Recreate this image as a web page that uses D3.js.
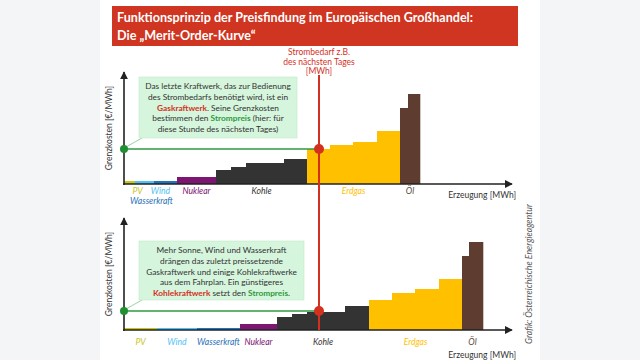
<!DOCTYPE html>
<html>
<head>
<meta charset="utf-8">
<script src="https://cdn.jsdelivr.net/npm/d3@7"></script>
<style>
  body { margin: 0; background: #f4f5f7; }
  svg { display: block; font-family: Lato, "Open Sans", sans-serif; }
</style>
</head>
<body>
<svg id="chart" width="640" height="360"></svg>
<script>
// ---- data (capacity in MWh-units, marginal cost in €/MWh-units) ----
const categories = ["PV", "Wind", "Wasserkraft", "Nuklear", "Kohle", "Erdgas", "Öl"];
const catColors = ["#c9c51a", "#4fc0f5", "#1f73bf", "#7d1572", "#333333", "#ffc000", "#5e3c2f"];
const labelColors = ["#c9c51a", "#4fc0f5", "#1f6fb5", "#7d1572", "#333333", "#ffc000", "#5a4a42"];

// top panel: plants in merit order
const topCat = ["PV", "Wind", "Wasserkraft", "Nuklear", "Kohle", "Kohle", "Kohle", "Kohle",
                "Erdgas", "Erdgas", "Erdgas", "Erdgas", "Öl", "Öl"];
const topCap = [11, 19, 23, 39, 15, 15, 38, 23, 23, 23, 24, 23, 8, 12];
const topCost = [3, 3, 3, 7, 14, 17, 21, 25, 35, 39, 42, 53, 76, 90];
const topPrice = 35;

// bottom panel: more sun, wind and hydro
const botCat = ["PV", "Wind", "Wasserkraft", "Nuklear", "Kohle", "Kohle", "Kohle", "Kohle",
                "Erdgas", "Erdgas", "Erdgas", "Erdgas", "Öl", "Öl"];
const botCap = [33, 40, 43, 37, 15, 15, 38, 24, 23, 23, 24, 23, 7, 14];
const botCost = [2, 2, 2, 6, 13, 16, 18, 24, 30, 37, 41, 51, 74, 88];
const botPrice = 19;

const demand = 195;

const topNote = [
  [["Das letzte Kraftwerk, das zur Bedienung", "n"]],
  [["des Strombedarfs benötigt wird, ist ein", "n"]],
  [["Gaskraftwerk", "r"], [". Seine Grenzkosten", "n"]],
  [["bestimmen den ", "n"], ["Strompreis", "g"], [" (hier: für", "n"]],
  [["diese Stunde des nächsten Tages)", "n"]]
];
const botNote = [
  [["Mehr Sonne, Wind und Wasserkraft", "n"]],
  [["drängen das zuletzt preissetzende", "n"]],
  [["Gaskraftwerk und einige Kohlekraftwerke", "n"]],
  [["aus dem Fahrplan. Ein günstigeres", "n"]],
  [["Kohlekraftwerk", "r"], [" setzt den ", "n"], ["Strompreis", "g"], [".", "n"]]
];

// ---- drawing ----
const svg = d3.select("#chart");
const RED = "#d3301f", GREEN = "#2f9a40";
const noteColor = {n: "#333333", r: "#d3301f", g: "#2f9a40"};

svg.append("rect").attr("x", 100).attr("y", 0).attr("width", 440).attr("height", 360).attr("fill", "#ffffff");

// title
svg.append("rect").attr("x", 112).attr("y", 6).attr("width", 406).attr("height", 40).attr("fill", "#cf3520");
svg.append("text").attr("x", 117).attr("y", 22).attr("fill", "#fff").attr("font-weight", "bold")
  .attr("font-size", 12.6).text("Funktionsprinzip der Preisfindung im Europäischen Großhandel:");
svg.append("text").attr("x", 117).attr("y", 40).attr("fill", "#fff").attr("font-weight", "bold")
  .attr("font-size", 12.6).text("Die „Merit-Order-Kurve“");

const x = d3.scaleLinear().domain([0, 388]).range([124, 512]);

const defs = svg.append("defs");
defs.append("marker").attr("id", "arrow").attr("viewBox", "0 0 10 10").attr("refX", 9).attr("refY", 5)
  .attr("markerWidth", 5).attr("markerHeight", 5).attr("orient", "auto")
  .append("path").attr("d", "M0,0L10,5L0,10Z").attr("fill", "#222");

function drawPanel(cfg) {
  const y = d3.scaleLinear().domain([0, 112]).range([cfg.base, cfg.base - 112]);
  const g = svg.append("g");

  let acc = 0;
  const plants = cfg.cap.map((c, i) => {
    const p = {cat: cfg.cat[i], x0: acc, x1: acc + c, cost: cfg.cost[i]};
    acc += c;
    return p;
  });

  g.selectAll("rect.plant").data(plants).join("rect").attr("class", "plant")
    .attr("x", d => x(d.x0)).attr("width", d => x(d.x1) - x(d.x0) + 0.3)
    .attr("y", d => y(d.cost)).attr("height", d => y(0) - y(d.cost))
    .attr("fill", d => catColors[categories.indexOf(d.cat)]);

  // axes
  g.append("line").attr("x1", x(0)).attr("x2", x(0)).attr("y1", y(0) + 1).attr("y2", y(112))
    .attr("stroke", "#222").attr("stroke-width", 1.6).attr("marker-end", "url(#arrow)");
  g.append("line").attr("x1", x(0) - 1).attr("x2", x(388)).attr("y1", y(0)).attr("y2", y(0))
    .attr("stroke", "#222").attr("stroke-width", 1.6).attr("marker-end", "url(#arrow)");

  g.append("text").attr("transform", `translate(112,${y(56)}) rotate(-90)`).attr("text-anchor", "middle")
    .attr("font-size", 8.5).attr("fill", "#333").text("Grenzkosten [€/MWh]");
  g.append("text").attr("x", 516).attr("y", cfg.ezY).attr("text-anchor", "end")
    .attr("font-size", 8.5).attr("fill", "#333").text("Erzeugung [MWh]");

  // category labels
  const groups = d3.rollups(plants, v => [d3.min(v, d => d.x0), d3.max(v, d => d.x1)], d => d.cat);
  g.selectAll("text.cat").data(groups).join("text").attr("class", "cat")
    .attr("x", d => x((d[1][0] + d[1][1]) / 2) + (cfg.shift[d[0]] || [0, 0])[0])
    .attr("y", d => cfg.labelY + (cfg.shift[d[0]] || [0, 0])[1])
    .attr("text-anchor", "middle").attr("font-style", "italic").attr("font-size", 8.6)
    .attr("fill", d => labelColors[categories.indexOf(d[0])]).text(d => d[0]);

  // price line
  g.append("line").attr("x1", x(0)).attr("x2", x(demand)).attr("y1", y(cfg.price)).attr("y2", y(cfg.price))
    .attr("stroke", GREEN).attr("stroke-width", 1.5);

  // note box
  const b = cfg.box;
  g.append("line").attr("x1", b.x + 3).attr("y1", b.y + b.h).attr("x2", x(0) + 2).attr("y2", y(cfg.price) - 2)
    .attr("stroke", "#7cc98a").attr("stroke-width", 0.8);
  g.append("rect").attr("x", b.x).attr("y", b.y).attr("width", b.w).attr("height", b.h)
    .attr("fill", "#d5f5dc").attr("stroke", "#c2ecca").attr("stroke-width", 0.6);
  const t = g.append("text").attr("text-anchor", "middle").attr("font-size", 8.3);
  cfg.note.forEach((line, i) => {
    const l = t.append("tspan").attr("x", b.x + b.w / 2).attr("y", b.y + 12 + i * 10.8);
    line.forEach(([s, k]) => {
      l.append("tspan").attr("fill", noteColor[k]).attr("font-weight", k === "n" ? null : "bold").text(s);
    });
  });

  g.append("circle").attr("cx", x(0)).attr("cy", y(cfg.price)).attr("r", 4).attr("fill", "#1f8f31");
  return {y, g};
}

const topPanel = drawPanel({base: 184, cat: topCat, cap: topCap, cost: topCost, price: topPrice,
  labelY: 194, ezY: 198, shift: {PV: [8, 0], Wind: [16, 0], Wasserkraft: [-14, 10]},
  box: {x: 139, y: 77, w: 158, h: 61}, note: topNote});
const botPanel = drawPanel({base: 330, cat: botCat, cap: botCap, cost: botCost, price: botPrice,
  labelY: 345, ezY: 358, shift: {},
  box: {x: 139, y: 241, w: 165, h: 59}, note: botNote});

// demand line
svg.append("line").attr("x1", x(demand)).attr("x2", x(demand)).attr("y1", 75).attr("y2", botPanel.y(0))
  .attr("stroke", RED).attr("stroke-width", 2);
svg.append("circle").attr("cx", x(demand)).attr("cy", topPanel.y(topPrice)).attr("r", 5).attr("fill", RED);
svg.append("circle").attr("cx", x(demand)).attr("cy", botPanel.y(botPrice)).attr("r", 5).attr("fill", RED);
["Strombedarf z.B.", "des nächsten Tages", "[MWh]"].forEach((s, i) => {
  svg.append("text").attr("x", x(demand)).attr("y", 55 + i * 9.5).attr("text-anchor", "middle")
    .attr("font-size", 8.5).attr("fill", RED).text(s);
});

svg.append("text").attr("transform", "translate(532,274) rotate(-90)").attr("text-anchor", "middle")
  .attr("font-size", 8.8).attr("font-style", "italic").attr("fill", "#555")
  .text("Grafik: Österreichische Energieagentur");
</script>
</body>
</html>
